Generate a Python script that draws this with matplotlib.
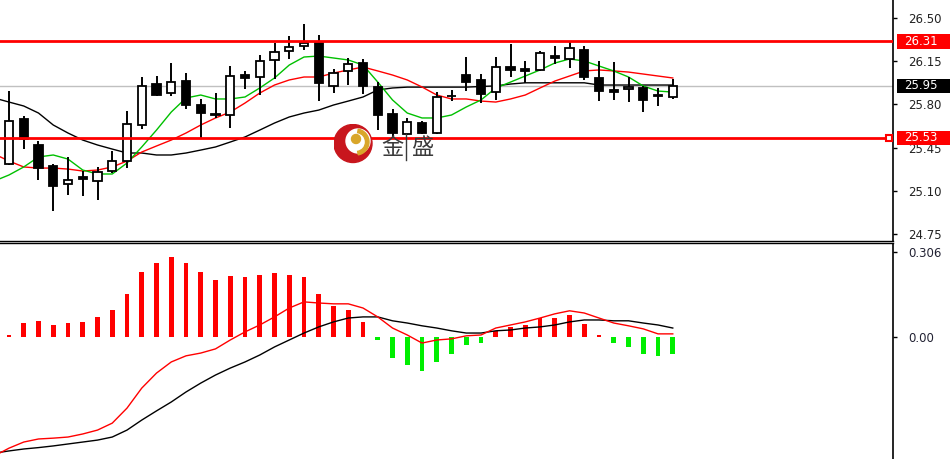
import numpy as np
import matplotlib
matplotlib.use("Agg")
import matplotlib.pyplot as plt
from matplotlib.patches import Rectangle, Circle, Wedge
from matplotlib.transforms import blended_transform_factory

# candles (oldest -> newest)
opens = [25.317, 25.682, 25.471, 25.301, 25.155, 25.212, 25.179, 25.260, 25.341, 25.633,
         25.965, 25.892, 25.989, 25.795, 25.726, 25.714, 26.038, 26.022, 26.160, 26.233,
         26.273, 26.297, 25.949, 26.071, 26.135, 25.941, 25.722, 25.560, 25.649, 25.568,
         25.872, 26.038, 25.998, 25.900, 26.103, 26.087, 26.079, 26.192, 26.168, 26.241,
         26.014, 25.917, 25.925, 25.933, 25.876, 25.856]
highs = [25.911, 25.706, 25.503, 25.317, 25.374, 25.260, 25.293, 25.422, 25.746, 26.022,
         26.030, 26.135, 26.054, 25.844, 25.892, 26.111, 26.071, 26.200, 26.297, 26.354,
         26.451, 26.362, 26.087, 26.176, 26.168, 25.981, 25.763, 25.690, 25.665, 25.900,
         25.917, 26.184, 26.046, 26.184, 26.289, 26.152, 26.233, 26.273, 26.306, 26.273,
         26.152, 26.143, 26.022, 25.949, 25.933, 26.006]
lows = [25.310, 25.438, 25.187, 24.936, 25.066, 25.058, 25.025, 25.244, 25.284, 25.600,
        25.868, 25.868, 25.763, 25.528, 25.690, 25.609, 25.925, 25.876, 26.006, 26.168,
        26.241, 25.827, 25.892, 25.957, 25.884, 25.592, 25.536, 25.552, 25.560, 25.560,
        25.827, 25.908, 25.811, 25.836, 26.022, 25.973, 26.070, 26.127, 26.095, 25.998,
        25.827, 25.836, 25.819, 25.738, 25.787, 25.844]
closes = [25.665, 25.519, 25.284, 25.139, 25.187, 25.195, 25.252, 25.341, 25.641, 25.949,
          25.876, 25.981, 25.795, 25.730, 25.718, 26.030, 26.014, 26.152, 26.224, 26.265,
          26.297, 25.973, 26.054, 26.127, 25.949, 25.714, 25.568, 25.657, 25.568, 25.860,
          25.864, 25.981, 25.884, 26.103, 26.079, 26.071, 26.216, 26.172, 26.257, 26.022,
          25.908, 25.904, 25.941, 25.836, 25.864, 25.950]

# moving averages, first value is the bar just left of the window
ma_fast = [25.179, 25.228, 25.293, 25.374, 25.390, 25.357, 25.268, 25.236, 25.236, 25.325,
           25.455, 25.592, 25.738, 25.852, 25.876, 25.844, 25.844, 25.860, 25.933, 26.014,
           26.119, 26.184, 26.192, 26.176, 26.160, 26.119, 25.981, 25.836, 25.730, 25.690,
           25.690, 25.714, 25.779, 25.836, 25.933, 25.981, 26.030, 26.079, 26.135, 26.168,
           26.152, 26.111, 26.071, 26.022, 25.949, 25.908, 25.900]
ma_mid = [25.398, 25.341, 25.293, 25.284, 25.284, 25.276, 25.260, 25.268, 25.293, 25.341,
          25.414, 25.463, 25.511, 25.568, 25.633, 25.690, 25.738, 25.811, 25.892, 25.957,
          25.998, 26.022, 26.022, 26.054, 26.079, 26.103, 26.071, 26.038, 25.998, 25.941,
          25.876, 25.844, 25.844, 25.827, 25.819, 25.844, 25.876, 25.933, 25.989, 26.030,
          26.071, 26.079, 26.071, 26.062, 26.046, 26.030, 26.014]
ma_slow = [25.852, 25.819, 25.787, 25.730, 25.633, 25.568, 25.511, 25.471, 25.438, 25.406,
           25.406, 25.390, 25.390, 25.406, 25.430, 25.455, 25.495, 25.536, 25.592, 25.649,
           25.698, 25.730, 25.754, 25.795, 25.827, 25.860, 25.917, 25.933, 25.940, 25.940,
           25.940, 25.940, 25.940, 25.945, 25.950, 25.965, 25.975, 25.975, 25.975, 25.975,
           25.975, 25.957, 25.957, 25.957, 25.957, 25.957, 25.957]

# MACD panel
hist = [0.006, 0.049, 0.058, 0.043, 0.050, 0.054, 0.072, 0.097, 0.155, 0.234,
        0.266, 0.289, 0.266, 0.234, 0.205, 0.220, 0.216, 0.223, 0.230, 0.223,
        0.216, 0.155, 0.112, 0.097, 0.054, -0.011, -0.076, -0.101, -0.122, -0.090,
        -0.061, -0.029, -0.022, 0.022, 0.036, 0.043, 0.068, 0.068, 0.079, 0.047,
        0.007, -0.022, -0.036, -0.061, -0.068, -0.061]
macd_red = [-0.428, -0.400, -0.378, -0.367, -0.364, -0.360, -0.349, -0.335, -0.310, -0.256,
            -0.184, -0.130, -0.090, -0.068, -0.058, -0.043, -0.011, 0.018, 0.043, 0.072,
            0.104, 0.126, 0.122, 0.119, 0.119, 0.104, 0.072, 0.032, 0.007, -0.022,
            -0.011, -0.007, 0.004, 0.007, 0.032, 0.043, 0.054, 0.068, 0.083, 0.094,
            0.086, 0.068, 0.050, 0.040, 0.029, 0.011, 0.011]
macd_black = [-0.418, -0.410, -0.403, -0.398, -0.392, -0.385, -0.378, -0.371, -0.360, -0.335,
              -0.299, -0.266, -0.234, -0.198, -0.166, -0.137, -0.112, -0.090, -0.065, -0.036,
              -0.011, 0.014, 0.036, 0.054, 0.068, 0.072, 0.072, 0.058, 0.050, 0.040,
              0.032, 0.022, 0.014, 0.014, 0.022, 0.025, 0.032, 0.036, 0.043, 0.054,
              0.061, 0.061, 0.058, 0.058, 0.050, 0.043, 0.032]

price_ticks = [26.50, 26.15, 25.80, 25.45, 25.10, 24.75]
level_hi = 26.31
level_lo = 25.53
last_price = 25.95

W, H = 950, 459
fig = plt.figure(figsize=(W / 100, H / 100), dpi=100)
fig.patch.set_facecolor("white")

ax = fig.add_axes([0, 1 - 241 / H, 893 / W, 241 / H])
ax2 = fig.add_axes([0, 0, 893 / W, 1 - 243.5 / H])

x = np.arange(len(opens))
xm = np.arange(-1, len(opens))

# price panel
ax.axhline(last_price, color="#c0c0c0", lw=1, zorder=1)
ax.plot(xm, ma_slow, color="black", lw=1, zorder=2)
ax.plot(xm, ma_mid, color="#ff0000", lw=1, zorder=2)
ax.plot(xm, ma_fast, color="#00c000", lw=1, zorder=2)
for i in range(len(opens)):
    o, h, l, c = opens[i], highs[i], lows[i], closes[i]
    ax.vlines(x[i], l, h, color="black", lw=1.4, zorder=3)
    fc = "white" if c >= o else "black"
    body = max(abs(c - o), 0.006)
    ax.bar(x[i], body, bottom=min(o, c), width=0.55, color=fc,
           edgecolor="black", linewidth=1.3, zorder=4)
ax.axhline(level_hi, color="#ff0000", lw=2, zorder=5)
ax.axhline(level_lo, color="#ff0000", lw=2, zorder=5)

bt = blended_transform_factory(ax.transAxes, ax.transData)
ax.plot([0.9955], [level_lo], transform=bt, marker="s", ms=5, mfc="white",
        mec="#ff0000", mew=1.5, zorder=6, clip_on=False)

ax.set_xlim(-0.61, 59.93)
ax.set_ylim(24.693, 26.646)
ax.set_xticks([])
ax.yaxis.tick_right()
ax.set_yticks(price_ticks)
ax.set_yticklabels(["%.2f" % v for v in price_ticks])
ax.tick_params(axis="y", direction="out", length=3, width=1, pad=8,
               labelsize=8.5, labelcolor="#222222")
for s in ["left", "top"]:
    ax.spines[s].set_visible(False)
ax.spines["right"].set_linewidth(1.2)
ax.spines["bottom"].set_linewidth(1.0)

for val, col in [(level_hi, "#ff0000"), (last_price, "black"), (level_lo, "#ff0000")]:
    ax.add_patch(Rectangle((1.004, val - 0.058), 0.06, 0.116, transform=bt,
                           facecolor=col, edgecolor="none", clip_on=False, zorder=10))
    ax.text(1.012, val, "%.2f" % val, transform=bt, color="white", fontsize=8.5,
            va="center", ha="left", zorder=11, clip_on=False)

# MACD panel
colors = ["#ff0000" if v >= 0 else "#00ee00" for v in hist]
ax2.bar(x, hist, width=0.33, color=colors, zorder=2)
ax2.plot(xm, macd_black, color="black", lw=1, zorder=3)
ax2.plot(xm, macd_red, color="#ff0000", lw=1, zorder=3)
ax2.set_xlim(-0.61, 59.93)
ax2.set_ylim(-0.439, 0.336)
ax2.set_xticks([])
ax2.yaxis.tick_right()
ax2.set_yticks([0.306, 0.0])
ax2.set_yticklabels(["0.306", "0.00"])
ax2.tick_params(axis="y", direction="out", length=3, width=1, pad=8,
                labelsize=8.5, labelcolor="#222233")
for s in ["left", "bottom"]:
    ax2.spines[s].set_visible(False)
ax2.spines["right"].set_linewidth(1.2)
ax2.spines["top"].set_linewidth(1.0)

# watermark logo
lg = fig.add_axes([334 / W, 1 - 166 / H, 42 / W, 42 / H])
lg.set_xlim(0, 42)
lg.set_ylim(0, 42)
lg.axis("off")
lg.add_patch(Circle((19, 22.5), 19, color="#c8161d"))
lg.add_patch(Circle((24, 25), 12, color="white"))
lg.add_patch(Wedge((22, 24), 13, -80, 80, width=3.5, color="#d9a62a"))
lg.add_patch(Circle((22, 27), 4.5, color="#d9a62a"))
cjk = ["Noto Sans CJK SC", "DejaVu Sans"]
fig.text(381 / W, 1 - 147 / H, "金", fontsize=16, color="#3a3a3a",
         family=cjk, va="center", ha="left")
fig.text(411 / W, 1 - 147 / H, "盛", fontsize=16, color="#3a3a3a",
         family=cjk, va="center", ha="left")
fig.add_artist(plt.Line2D([406 / W, 406 / W], [1 - 160 / H, 1 - 134 / H],
                          color="#3a3a3a", lw=1))

fig.savefig("out.png", dpi=100, facecolor="white")
